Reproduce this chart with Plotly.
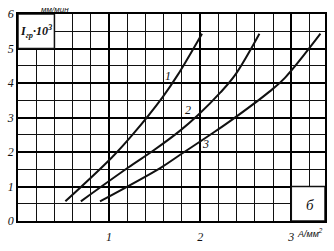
import plotly.graph_objects as go

# Curve data (x: current density A/mm^2, y: I_гр·10^3 mm/min)
c1_x = [0.52, 1.03, 1.26, 1.59, 1.75, 2.02]
c1_y = [0.57, 1.84, 2.51, 3.60, 4.22, 5.43]
c2_x = [0.69, 1.21, 1.49, 1.78, 1.98, 2.22, 2.38, 2.65]
c2_y = [0.57, 1.55, 2.05, 2.62, 3.08, 3.72, 4.22, 5.43]
c3_x = [0.90, 1.57, 1.78, 2.11, 2.32, 2.76, 2.93, 3.32]
c3_y = [0.57, 1.55, 1.92, 2.50, 2.88, 3.75, 4.15, 5.43]
curve_names = ["1", "2", "3"]
label_x = [1.65, 1.87, 2.06]
label_y = [4.2, 3.22, 2.24]
x_ticks = [1, 2, 3]
y_ticks = [0, 1, 2, 3, 4, 5, 6]

fig = go.Figure()
for xs, ys in [(c1_x, c1_y), (c2_x, c2_y), (c3_x, c3_y)]:
    fig.add_trace(go.Scatter(x=xs, y=ys, mode="lines",
                             line=dict(color="#111", width=2, shape="spline", smoothing=1.0),
                             showlegend=False, hoverinfo="skip"))

hand = dict(family="Liberation Serif", size=12, color="#111", style="italic")
for name, lx, ly in zip(curve_names, label_x, label_y):
    fig.add_annotation(x=lx, y=ly, text=name, showarrow=False, font=hand)

# white boxes (label box top-left, figure letter box bottom-right)
fig.add_shape(type="rect", x0=0, x1=0.4, y0=5, y1=6, layer="between",
              fillcolor="white", line=dict(color="#111", width=1.5))
fig.add_shape(type="rect", x0=3.0, x1=3.37, y0=0, y1=1, layer="between",
              fillcolor="white", line=dict(color="#111", width=1.5))

fig.add_annotation(x=0.2, y=5.5, text="<b>I<sub>гр</sub>·10<sup>3</sup></b>", showarrow=False,
                   font=dict(family="Liberation Serif", size=12, color="#111", style="italic"))
fig.add_annotation(x=3.2, y=0.45, text="б", showarrow=False,
                   font=dict(family="Liberation Serif", size=15, color="#111", style="italic"))
fig.add_annotation(xref="paper", yref="paper", x=0.12, y=1.0, yanchor="bottom", xanchor="center",
                   text="мм/мин", showarrow=False, yshift=-2,
                   font=dict(family="Liberation Sans", size=8, color="#111", style="italic"))
fig.add_annotation(xref="paper", yref="paper", x=0.95, y=0, yanchor="top", xanchor="center",
                   text="А/мм<sup>2</sup>", showarrow=False, yshift=-4,
                   font=dict(family="Liberation Sans", size=9, color="#111", style="italic"))

fig.update_xaxes(range=[0, 3.37], tickvals=x_ticks, ticktext=[str(v) for v in x_ticks],
                 showgrid=True, gridcolor="#000", gridwidth=1.5,
                 minor=dict(dtick=0.2, tick0=0, showgrid=True, gridcolor="#111", gridwidth=1.4),
                 showline=True, linecolor="#000", linewidth=1.6, mirror=True,
                 ticks="", tickfont=hand, ticklabelstandoff=4, zeroline=False, fixedrange=True)
fig.update_yaxes(range=[0, 6], tickvals=y_ticks, ticktext=[str(v) for v in y_ticks],
                 showgrid=True, gridcolor="#000", gridwidth=1.5,
                 minor=dict(dtick=0.5, tick0=0, showgrid=True, gridcolor="#111", gridwidth=1.4),
                 showline=True, linecolor="#000", linewidth=1.6, mirror=True,
                 ticks="", tickfont=hand, zeroline=False, fixedrange=True)

fig.update_layout(width=334, height=251, margin=dict(l=15, r=7, t=14, b=15),
                  plot_bgcolor="white", paper_bgcolor="white")
fig.write_html("out.html")
